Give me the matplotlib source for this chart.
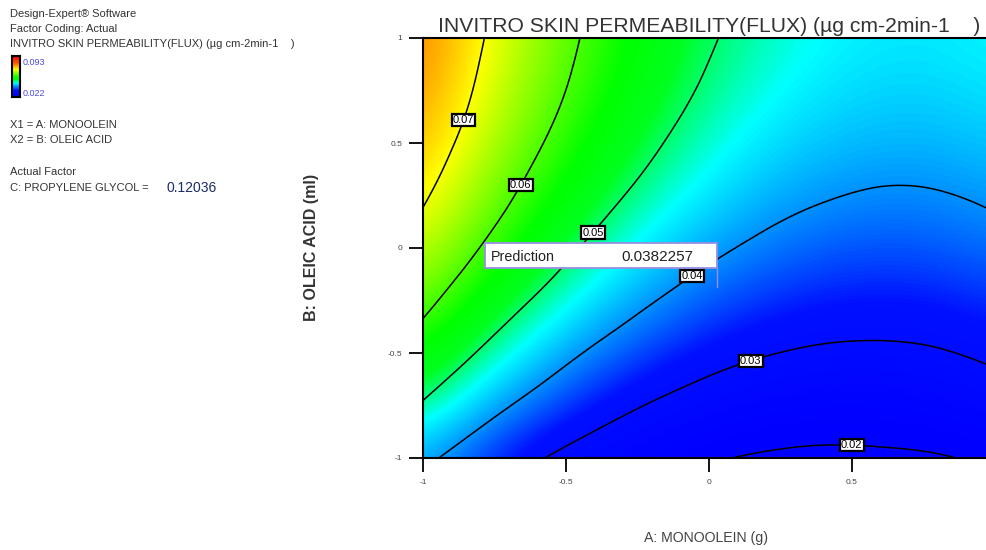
import numpy as np
import matplotlib
matplotlib.use("Agg")
import matplotlib.pyplot as plt
import matplotlib.tri as mtri
from matplotlib.colors import LinearSegmentedColormap, Normalize
from matplotlib.patches import Rectangle

# ---------------- data ----------------
a_levels = [-1.0, -0.8, -0.6, -0.4, -0.2, 0.0, 0.2, 0.4, 0.6, 0.8, 1.0]   # A: Monoolein (coded)
b_levels = [-1.0, -0.8, -0.6, -0.4, -0.2, 0.0, 0.2, 0.4, 0.6, 0.8, 1.0]   # B: Oleic acid (coded)
flux_b_m10 = [0.0417, 0.0357, 0.0306, 0.0264, 0.0231, 0.0207, 0.0192, 0.0186, 0.0188, 0.0195, 0.0215]
flux_b_m08 = [0.0479, 0.0416, 0.0363, 0.0319, 0.0283, 0.0257, 0.0240, 0.0231, 0.0232, 0.0241, 0.0260]
flux_b_m06 = [0.0534, 0.0470, 0.0415, 0.0368, 0.0331, 0.0302, 0.0283, 0.0273, 0.0271, 0.0279, 0.0295]
flux_b_m04 = [0.0585, 0.0518, 0.0461, 0.0413, 0.0374, 0.0343, 0.0322, 0.0310, 0.0307, 0.0312, 0.0327]
flux_b_m02 = [0.0629, 0.0561, 0.0503, 0.0453, 0.0412, 0.0380, 0.0357, 0.0343, 0.0338, 0.0342, 0.0355]
flux_b_p00 = [0.0668, 0.0599, 0.0539, 0.0487, 0.0445, 0.0412, 0.0388, 0.0372, 0.0366, 0.0369, 0.0381]
flux_b_p02 = [0.0701, 0.0631, 0.0570, 0.0517, 0.0474, 0.0440, 0.0414, 0.0398, 0.0390, 0.0392, 0.0403]
flux_b_p04 = [0.0729, 0.0657, 0.0595, 0.0542, 0.0498, 0.0463, 0.0436, 0.0419, 0.0411, 0.0412, 0.0421]
flux_b_p06 = [0.0750, 0.0679, 0.0616, 0.0562, 0.0517, 0.0481, 0.0454, 0.0436, 0.0428, 0.0428, 0.0437]
flux_b_p08 = [0.0767, 0.0694, 0.0631, 0.0577, 0.0532, 0.0495, 0.0468, 0.0450, 0.0440, 0.0440, 0.0449]
flux_b_p10 = [0.0777, 0.0705, 0.0641, 0.0587, 0.0541, 0.0505, 0.0478, 0.0459, 0.0450, 0.0449, 0.0458]

contour_levels = [0.02, 0.03, 0.04, 0.05, 0.06, 0.07]
label_spots = [(-0.86, 0.61), (-0.67, 0.31), (-0.42, 0.09), (-0.07, -0.11), (0.14, -0.51), (0.50, -0.91)]
x_ticks = [-1, -0.5, 0, 0.5]
y_ticks = [-1, -0.5, 0, 0.5, 1]
x_tick_labels = ["-1", "-0.5", "0", "0.5"]
y_tick_labels = ["-1", "-0.5", "0", "0.5", "1"]
legend_high, legend_low = 0.093, 0.022
pred_x, pred_y, pred_value = 0.028, -0.186, 0.0382257
propylene_glycol = 0.12036

Z = np.array([flux_b_m10, flux_b_m08, flux_b_m06, flux_b_m04, flux_b_m02, flux_b_p00,
              flux_b_p02, flux_b_p04, flux_b_p06, flux_b_p08, flux_b_p10])
A, B = np.meshgrid(a_levels, b_levels)

# ---------------- colours ----------------
anchors = [(0.022, "#0000ff"), (0.033, "#0010ff"), (0.046, "#00ffff"), (0.052, "#00ff20"),
           (0.056, "#00ff00"), (0.070, "#ffff00"), (0.080, "#ff6400"), (0.093, "#ff0000")]
vmin, vmax = legend_low, legend_high
cmap = LinearSegmentedColormap.from_list(
    "dx", [((v - vmin) / (vmax - vmin), c) for v, c in anchors])
norm = Normalize(vmin=vmin, vmax=vmax)

plt.rcParams['font.family'] = ['Liberation Sans', 'DejaVu Sans']
fig = plt.figure(figsize=(9.87, 5.5), dpi=100)
ax = fig.add_axes([423 / 987, 1 - 458 / 550, 572 / 987, 420 / 550])

step = a_levels[1] - a_levels[0]
ax.imshow(Z, origin="lower", cmap=cmap, norm=norm, interpolation="bicubic",
          extent=[a_levels[0] - step / 2, a_levels[-1] + step / 2,
                  b_levels[0] - step / 2, b_levels[-1] + step / 2], aspect="auto")

# smooth contour lines via matplotlib's triangulation refiner
tri = mtri.Triangulation(A.ravel(), B.ravel())
tri_r, z_r = mtri.UniformTriRefiner(tri).refine_field(Z.ravel(), subdiv=3)
cs = ax.tricontour(tri_r, z_r, levels=contour_levels, colors="black", linewidths=1.1)
labels = ax.clabel(cs, levels=contour_levels, manual=label_spots, inline=False,
                   fmt="%.2f", fontsize=8, colors="black")
for t in labels:
    t.set_rotation(0)
    t.set_bbox(dict(boxstyle="square,pad=0.1", fc="white", ec="black", lw=1.6))

ax.set_xlim(-1, 1)
ax.set_ylim(-1, 1)
ax.set_xticks(x_ticks)
ax.set_xticklabels(x_tick_labels)
ax.set_yticks(y_ticks)
ax.set_yticklabels(y_tick_labels)
ax.tick_params(direction="out", length=10, width=1.3, labelsize=6, colors="black",
               labelcolor="#444444", pad=5)
for s in ["left", "bottom", "top", "right"]:
    ax.spines[s].set_linewidth(1.5)
    ax.spines[s].set_color("black")

ax.set_title("INVITRO SKIN PERMEABILITY(FLUX) (µg cm-2min-1    )", fontsize=15.2,
             color="#333333", pad=4)
fig.text(706 / 987, 1 - 538 / 550, "A: MONOOLEIN (g)", ha="center", va="center",
         fontsize=10.2, color="#444444")
fig.text(312 / 987, 1 - 247 / 550, "B: OLEIC ACID (ml)", ha="center", va="center",
         rotation=90, fontsize=11.5, color="#333333", fontweight="bold")

# prediction flag
bx0, bx1 = -0.783, pred_x
by0, by1 = -0.095, 0.024
ax.add_patch(Rectangle((bx0, by0), bx1 - bx0, by1 - by0, fc="white",
                       ec="#9a8fe0", lw=1.3, zorder=5))
ax.plot([pred_x, pred_x], [by0, pred_y], color="#9a8fe0", lw=1.0, zorder=5)
ax.text(bx0 + 0.02, (by0 + by1) / 2 - 0.005, "Prediction", fontsize=10.3, color="#222222",
        va="center", ha="left", zorder=6)
ax.text(-0.308, (by0 + by1) / 2 - 0.005, f"{pred_value:.7f}", fontsize=11, color="#222222",
        va="center", ha="left", zorder=6)

# left info panel
tc = "#333333"
fs = 8
def ftxt(px, py, s, **kw):
    d = dict(fontsize=fs, color=tc, va="center", ha="left")
    d.update(kw)
    fig.text(px / 987, 1 - py / 550, s, **d)

ftxt(10, 14, "Design-Expert® Software")
ftxt(10, 29, "Factor Coding: Actual")
ftxt(10, 44, "INVITRO SKIN PERMEABILITY(FLUX) (µg cm-2min-1    )")
cax = fig.add_axes([12 / 987, 1 - 97 / 550, 8 / 987, 41 / 550])
cax.imshow(np.linspace(vmin, vmax, 100).reshape(-1, 1), origin="lower", cmap=cmap,
           norm=norm, aspect="auto")
cax.set_xticks([])
cax.set_yticks([])
for s in cax.spines.values():
    s.set_linewidth(1.5)
    s.set_color("black")
ftxt(23, 62, f"{legend_high:.3f}", color="#4a4ae0", fontsize=6.5)
ftxt(23, 94, f"{legend_low:.3f}", color="#4a4ae0", fontsize=6.5)
ftxt(10, 125, "X1 = A: MONOOLEIN")
ftxt(10, 140, "X2 = B: OLEIC ACID")
ftxt(10, 172, "Actual Factor")
ftxt(10, 188, "C: PROPYLENE GLYCOL = ")
ftxt(167, 188, f"{propylene_glycol:.5f}", fontsize=10, color="#1a2a6a")

fig.savefig("out.png", dpi=100)
